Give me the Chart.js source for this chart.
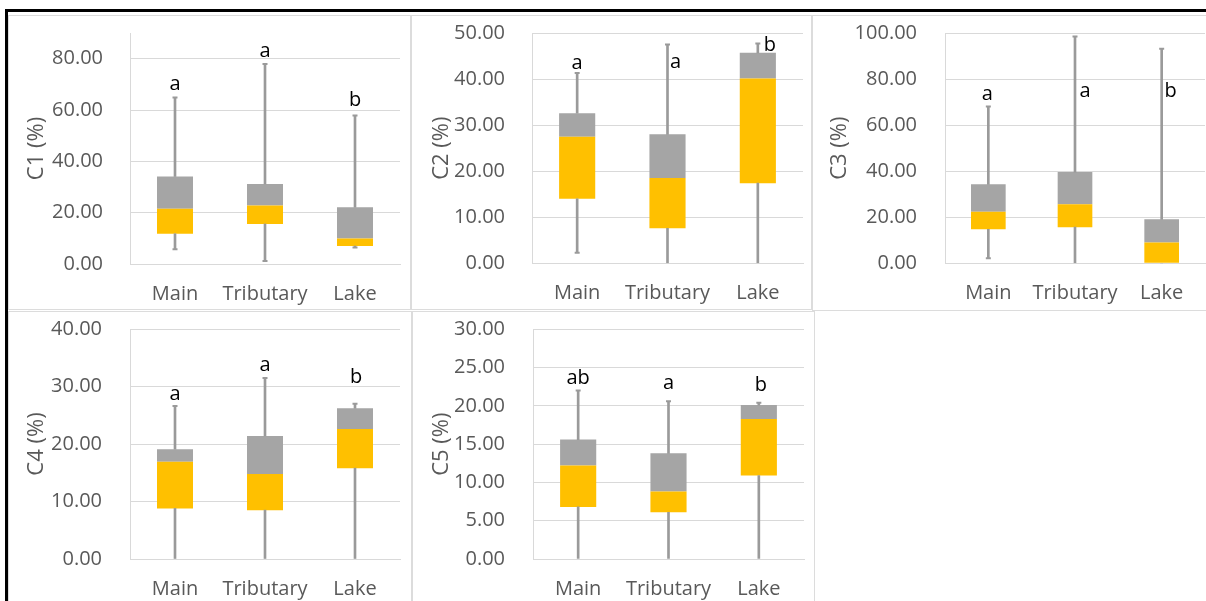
<!DOCTYPE html>
<html>
<head>
<meta charset="utf-8">
<script src="https://cdn.jsdelivr.net/npm/chart.js@4.4.1/dist/chart.umd.min.js"></script>
<style>
  html, body { margin: 0; padding: 0; background: #fff; }
  body { width: 1206px; height: 601px; position: relative; overflow: hidden; }
  .frame { position: absolute; left: 5px; top: 9px; width: 1201px; height: 592px;
           border-top: 3px solid #000; border-left: 3px solid #000; box-sizing: border-box; }
  .panel { position: absolute; box-sizing: border-box; border: 1px solid #dcdcdc; }
  canvas { position: absolute; }
</style>
</head>
<body>
<div class="frame"></div>
<script>
// Site types on the x axis
const categories = ['Main', 'Tributary', 'Lake'];

// Five-number summaries (%) for each component, ordered Main / Tributary / Lake
const c1Min    = [5.7, 1.2, 6.4];
const c1Q1     = [11.8, 15.6, 7.0];
const c1Median = [21.5, 22.8, 9.9];
const c1Q3     = [34.1, 31.2, 22.1];
const c1Max    = [64.9, 77.9, 57.9];

const c2Min    = [2.3, 0, 0];
const c2Q1     = [14.0, 7.6, 17.4];
const c2Median = [27.5, 18.5, 40.1];
const c2Q3     = [32.6, 28.0, 45.7];
const c2Max    = [41.3, 47.5, 47.7];

const c3Min    = [2.2, 0, 0];
const c3Q1     = [14.8, 15.7, 0];
const c3Median = [22.4, 25.6, 9.0];
const c3Q3     = [34.3, 39.6, 19.1];
const c3Max    = [68.1, 98.5, 93.2];

const c4Min    = [0, 0, 0];
const c4Q1     = [8.8, 8.5, 15.8];
const c4Median = [16.9, 14.8, 22.6];
const c4Q3     = [19.1, 21.4, 26.2];
const c4Max    = [26.6, 31.5, 27.0];

const c5Min    = [0, 0, 0];
const c5Q1     = [6.8, 6.1, 10.9];
const c5Median = [12.2, 8.8, 18.3];
const c5Q3     = [15.6, 13.8, 20.1];
const c5Max    = [22.0, 20.6, 20.4];

// Significance group letters
const c1Letters = ['a', 'a', 'b'];
const c2Letters = ['a', 'a', 'b'];
const c3Letters = ['a', 'a', 'b'];
const c4Letters = ['a', 'a', 'b'];
const c5Letters = ['ab', 'a', 'b'];

// Y axis ranges
const c1Axis = { max: 90, step: 20 };
const c2Axis = { max: 50, step: 10 };
const c3Axis = { max: 100, step: 20 };
const c4Axis = { max: 40, step: 10 };
const c5Axis = { max: 30, step: 5 };

const series = [
  { title: 'C1 (%)', min: c1Min, q1: c1Q1, med: c1Median, q3: c1Q3, max: c1Max, letters: c1Letters, axis: c1Axis },
  { title: 'C2 (%)', min: c2Min, q1: c2Q1, med: c2Median, q3: c2Q3, max: c2Max, letters: c2Letters, axis: c2Axis },
  { title: 'C3 (%)', min: c3Min, q1: c3Q1, med: c3Median, q3: c3Q3, max: c3Max, letters: c3Letters, axis: c3Axis },
  { title: 'C4 (%)', min: c4Min, q1: c4Q1, med: c4Median, q3: c4Q3, max: c4Max, letters: c4Letters, axis: c4Axis },
  { title: 'C5 (%)', min: c5Min, q1: c5Q1, med: c5Median, q3: c5Q3, max: c5Max, letters: c5Letters, axis: c5Axis }
];

// Panel frames and plot-area geometry (pixels); letter anchors in axis units
const layout = [
  { x: 8,   y: 15,  w: 403, h: 295, yAxisW: 122, padR: 11, padT: 18,   xAxisH: 46,   tickPad: 27, titleX: 29, letterAt: [67.6, 80.7, 61.4], letterDx: [0, 0, 0] },
  { x: 411, y: 15,  w: 401, h: 295, yAxisW: 121, padR: 9,  padT: 18,   xAxisH: 46.7, tickPad: 27, titleX: 31, letterAt: [42.2, 42.5, 46.0], letterDx: [0, 8, 12] },
  { x: 812, y: 15,  w: 400, h: 296, yAxisW: 133, padR: 7,  padT: 18,   xAxisH: 47.7, tickPad: 28, titleX: 28, letterAt: [71.0, 72.2, 72.2], letterDx: [-1, 10, 9] },
  { x: 8,   y: 311, w: 404, h: 295, yAxisW: 122, padR: 12, padT: 18,   xAxisH: 47,   tickPad: 28, titleX: 29, letterAt: [27.7, 32.7, 30.6], letterDx: [0, 0, 1] },
  { x: 412, y: 311, w: 403, h: 295, yAxisW: 121, padR: 11, padT: 18.3, xAxisH: 47,   tickPad: 28, titleX: 30, letterAt: [22.9, 22.2, 22.0], letterDx: [0, 0, 2] }
];

const FONT = "'Open Sans', sans-serif";
const TICK_SIZE = 20;
const TITLE_SIZE = 22;
const LETTER_SIZE = 20;
const TEXT_GREY = '#595959';
const GRID = '#d9d9d9';
const WHISKER = '#9a9a9a';
const GOLD = '#FFC000';
const BOX_GREY = '#A5A5A5';

// Draws the group letters above each box
const letterPlugin = {
  id: 'groupLetters',
  afterDatasetsDraw(chart, args, opts) {
    const { ctx, scales: { x, y } } = chart;
    ctx.save();
    ctx.font = LETTER_SIZE + "px " + FONT;
    ctx.fillStyle = '#000';
    ctx.textAlign = 'center';
    ctx.textBaseline = 'alphabetic';
    opts.text.forEach((t, i) => {
      ctx.fillText(t, x.getPixelForValue(i) + opts.dx[i], y.getPixelForValue(opts.at[i]));
    });
    ctx.restore();
  }
};

function buildPanel(s, L) {
  const frame = document.createElement('div');
  frame.className = 'panel';
  Object.assign(frame.style, { left: L.x + 'px', top: L.y + 'px', width: L.w + 'px', height: L.h + 'px' });
  document.body.appendChild(frame);

  const canvas = document.createElement('canvas');
  canvas.width = L.w; canvas.height = L.h;
  Object.assign(canvas.style, { left: L.x + 'px', top: L.y + 'px', width: L.w + 'px', height: L.h + 'px' });
  document.body.appendChild(canvas);

  const idx = categories.map((_, i) => i);
  const boxBar = { type: 'bar', grouped: false, categoryPercentage: 1, barPercentage: 0.4, borderWidth: 0 };
  const whiskerBar = { type: 'bar', grouped: false, barThickness: 2, backgroundColor: WHISKER, borderWidth: 0 };
  const cap = { type: 'line', showLine: false, pointStyle: 'line', pointRadius: 2.5, pointHoverRadius: 2.5,
                pointBorderWidth: 2, pointBorderColor: WHISKER, borderColor: WHISKER };

  new Chart(canvas, {
    type: 'bar',
    data: {
      labels: categories,
      datasets: [
        { ...whiskerBar, label: 'Min–Q1', data: idx.map(i => [s.min[i], s.q1[i]]) },
        { ...whiskerBar, label: 'Q3–Max', data: idx.map(i => [s.q3[i], s.max[i]]) },
        { ...boxBar, label: 'Q1–Median', backgroundColor: GOLD, data: idx.map(i => [s.q1[i], s.med[i]]) },
        { ...boxBar, label: 'Median–Q3', backgroundColor: BOX_GREY, data: idx.map(i => [s.med[i], s.q3[i]]) },
        { ...cap, label: 'Max', data: s.max },
        { ...cap, label: 'Min', data: s.min.map(v => (v > 0 ? v : null)) }
      ]
    },
    options: {
      responsive: false,
      animation: false,
      devicePixelRatio: 1,
      layout: { padding: { left: 0, right: L.padR, top: L.padT, bottom: 0 } },
      plugins: {
        legend: { display: false },
        tooltip: { enabled: false },
        groupLetters: { text: s.letters, at: L.letterAt, dx: L.letterDx }
      },
      scales: {
        x: {
          offset: true,
          grid: { display: false, drawTicks: false },
          border: { display: true, color: GRID, width: 1 },
          ticks: { color: TEXT_GREY, font: { family: FONT, size: TICK_SIZE }, padding: 18,
                   autoSkip: false, maxRotation: 0, minRotation: 0 },
          afterFit(scale) {
            scale.height = L.xAxisH;
            scale.paddingLeft = 0; scale.paddingRight = 0;
          }
        },
        y: {
          min: 0,
          max: s.axis.max,
          grid: { color: GRID, lineWidth: 1, drawTicks: false },
          border: { display: true, color: GRID, width: 1 },
          ticks: {
            stepSize: s.axis.step,
            color: TEXT_GREY,
            font: { family: FONT, size: TICK_SIZE },
            padding: L.tickPad,
            callback: v => Number(v).toFixed(2)
          },
          afterBuildTicks(scale) {
            scale.ticks = scale.ticks.filter(t => Math.abs(t.value / s.axis.step - Math.round(t.value / s.axis.step)) < 1e-9);
          },
          title: {
            display: true,
            text: s.title,
            color: TEXT_GREY,
            font: { family: FONT, size: TITLE_SIZE },
            padding: { top: L.titleX - TITLE_SIZE * 0.6, bottom: 0 }
          },
          afterFit(scale) {
            scale.width = L.yAxisW;
            scale.paddingTop = 0; scale.paddingBottom = 0;
          }
        }
      }
    },
    plugins: [letterPlugin]
  });
}

function drawAll() {
  series.forEach((s, i) => buildPanel(s, layout[i]));
}

if (document.fonts && document.fonts.load) {
  document.fonts.load("20px 'Open Sans'").then(drawAll, drawAll);
} else {
  drawAll();
}
</script>
</body>
</html>
